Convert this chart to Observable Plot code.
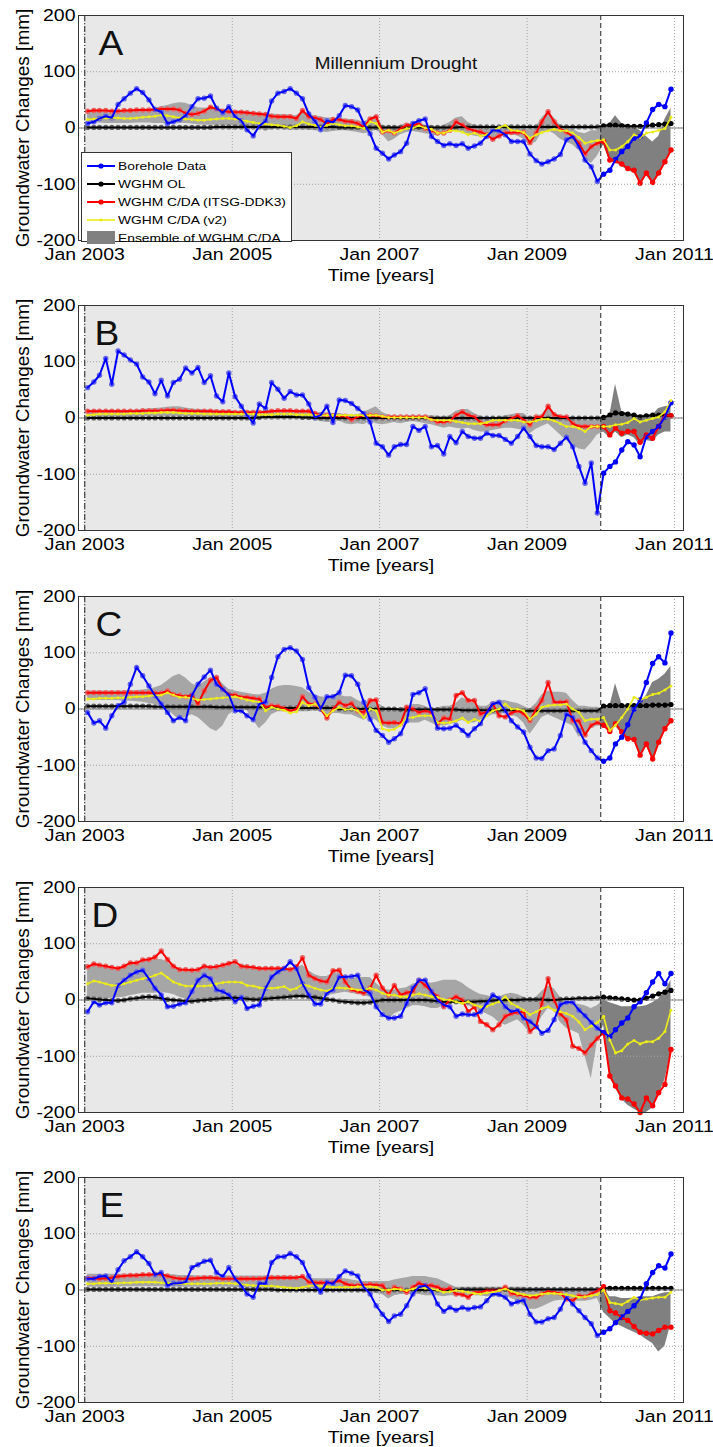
<!DOCTYPE html>
<html><head><meta charset="utf-8">
<script src="https://cdn.jsdelivr.net/npm/d3@7"></script>
<script src="https://cdn.jsdelivr.net/npm/@observablehq/plot@0.6"></script>
<style>
html,body{margin:0;padding:0;background:#fff;}
#wrap{position:relative;width:713px;height:1447px;overflow:hidden;font-family:"Liberation Sans",Arial,sans-serif;}
.panel{position:absolute;left:0;}
#legend{position:absolute;left:81px;top:152px;width:211px;height:90px;box-sizing:border-box;border:1px solid #333;background:#fff;}
.lrow{position:absolute;left:0;height:16px;width:205px;}
.lrow svg{position:absolute;left:4px;top:0;}
.lrow span{position:absolute;left:36px;top:0;font-size:11.8px;line-height:16px;white-space:nowrap;transform:scaleX(1.17);transform-origin:left center;color:#000;}
</style></head><body><div id="wrap"></div>
<script>
// ---------- axis / category data ----------
const tickYears = [2003, 2005, 2007, 2009, 2011];
const yTicks = [-200, -100, 0, 100, 200];
const months = d3.range(96).map(i => new Date(Date.UTC(2003, i, 15)));
const drought = [{start: new Date(Date.UTC(2003, 0, 1)), end: new Date(Date.UTC(2010, 0, 1))}];
const xStart = new Date(Date.UTC(2002, 11, 1)), xEnd = new Date(Date.UTC(2011, 1, 15));
const seriesNames = ["Borehole Data", "WGHM OL", "WGHM C/DA (ITSG-DDK3)", "WGHM C/DA (v2)", "Ensemble of WGHM C/DA"];

// ---------- Panel A ----------
const boreA = [8,11,17,21,18,42,52,62,70,63,50,33, 29,8,11,15,22,38,52,53,57,35,27,38, 20,13,-3,-14,4,12,48,62,65,70,62,52, 25,12,-3,13,10,22,40,38,32,8,-10,-36, -45,-55,-48,-42,-27,8,13,16,-15,-24,-31,-28, -31,-28,-36,-32,-27,-15,-4,-5,-12,-24,-24,-24, -46,-58,-64,-60,-55,-47,-21,-15,-33,-57,-69,-95, -82,-75,-56,-42,-33,-18,-15,9,33,42,38,69];
const cdaA = [30,31,31,31,30,30,31,31,32,32,32,33, 34,34,34,32,26,24,26,30,37,34,30,29, 28,28,27,26,25,24,21,20,20,20,17,31, 20,18,15,7,15,15,12,11,8,2,16,20, -7,-5,-9,-1,5,5,8,-1,-4,-9,-9,-4, 11,5,-1,-5,-7,-12,-20,-14,-9,-8,-8,-8, -26,-9,11,29,11,-2,-7,-15,-27,-46,-33,-27, -24,-57,-58,-64,-72,-75,-98,-80,-97,-80,-60,-39];
const olA = [1,1,1,1,1,1,1,1,1,1,1,1, 1,1,1,1,1,1,1,1,1,2,2,2, 2,2,2,2,2,2,2,2,2,2,2,2, 2,2,2,2,2,1,1,1,1,1,1,1, 1,1,1,1,1,1,1,1,1,1,1,1, 1,2,2,2,2,2,2,2,2,2,2,2, 2,2,2,2,2,2,2,2,2,2,2,2, 4,5,5,4,3,3,3,4,5,6,7,8];
const v2A = [15,16,17,18,18,18,17,17,18,19,20,21, 23,22,20,18,16,15,14,14,15,16,17,17, 16,14,12,10,8,7,6,5,3,1,4,11, 7,5,1,5,8,6,4,4,2,-1,11,8, -7,-4,-9,-5,-1,0,4,0,-2,-9,-9,-5, -5,-7,-12,-9,-14,-12,-5,1,5,-4,-5,-8, -18,-12,-8,-5,-2,-5,-5,-9,-17,-27,-24,-22, -21,-39,-39,-33,-24,-12,-17,-9,-7,-4,-1,19];
const ensLoA = [10,9,9,8,8,8,8,8,9,9,9,8, 8,7,7,8,8,7,6,5,5,5,4,4, 3,3,2,2,0,-6,-2,-2,-3,-4,-4,-3, -4,-5,-6,-8,-6,-5,-5,-6,-8,-10,-8,-4, -12,-25,-20,-12,-8,-6,-8,-10,-12,-14,-10,-6, -5,-8,-12,-14,-16,-18,-20,-16,-14,-12,-14,-20, -30,-25,-8,-5,-10,-20,-25,-30,-40,-55,-63,-50, -30,-60,-62,-68,-76,-80,-99,-85,-98,-82,-62,-42];
const ensHiA = [28,29,29,30,30,30,31,31,32,33,34,35, 38,40,43,45,44,40,36,35,36,35,33,32, 31,30,29,28,27,26,25,24,24,23,22,30, 24,22,20,18,18,18,16,15,14,10,18,22, 5,2,0,5,8,8,10,5,3,0,5,10, 18,20,10,5,3,0,-2,2,6,4,2,0, -5,2,18,30,18,5,2,-2,-8,-10,-5,-5, 3,8,22,8,5,2,-5,-15,-25,-15,15,35];

// ---------- Panel B ----------
const boreB = [54,64,76,106,60,119,112,103,96,73,64,43, 67,39,63,69,89,80,90,63,75,39,29,80, 38,21,5,-9,25,17,63,51,35,47,41,41, 25,1,5,21,-8,32,31,26,17,8,-7,-45, -51,-66,-51,-47,-47,-15,-22,-15,-51,-49,-64,-33, -44,-24,-33,-36,-36,-27,-31,-31,-38,-45,-33,-18, -33,-49,-51,-51,-56,-45,-34,-51,-86,-116,-80,-169, -98,-86,-78,-57,-42,-48,-69,-33,-24,-15,2,27];
const cdaB = [12,12,12,12,12,12,12,12,12,13,13,13, 13,14,14,13,13,12,12,12,12,11,11,11, 10,10,10,10,10,11,12,13,13,13,12,12, 12,8,5,5,4,3,3,-3,2,5,5,4, 2,2,2,2,2,2,2,2,-2,-7,-7,-5, 5,11,5,2,-8,-12,-12,-12,-5,-1,4,-3, -12,2,2,21,6,2,2,-10,-15,-15,-15,-15, -15,-30,-18,-27,-24,-24,-43,-30,-36,-15,5,4];
const olB = [0,0,0,0,0,0,0,0,0,0,0,0, 0,0,0,0,0,0,0,0,0,0,0,0, 0,0,0,0,1,2,2,2,2,2,2,1, 1,0,0,0,0,0,0,0,0,0,0,0, 0,0,0,0,0,0,0,0,0,0,0,0, 0,0,0,0,0,0,0,0,0,0,0,0, 0,0,0,0,0,0,0,0,0,0,0,0, 1,5,9,8,7,5,2,4,5,5,5,4];
const v2B = [5,6,7,7,7,7,7,8,8,8,9,9, 10,10,10,9,8,8,8,7,7,7,7,7, 7,7,7,7,6,6,6,7,7,7,6,6, 6,5,5,5,5,5,5,5,5,5,5,5, 3,1,1,1,1,1,1,1,-3,-4,-4,-4, -6,-8,-10,-10,-10,-8,-4,-4,-4,-4,-4,-7, -7,-5,-2,-2,-5,-10,-15,-15,-18,-24,-15,-15, -15,-15,-12,-11,-8,-1,-7,-4,-1,2,11,31];
const ensLoB = [0,0,0,1,1,1,1,1,1,2,2,2, 2,2,2,2,2,2,1,1,1,1,1,1, 0,0,0,0,0,0,-2,-2,-1,-1,-1,-2, -3,-4,-6,-8,-8,-5,-10,-12,-10,-12,-6,-10, -12,-10,-8,-10,-8,-6,-8,-10,-12,-15,-18,-16, -18,-20,-18,-22,-25,-25,-22,-20,-18,-18,-20,-22, -28,-20,-15,-10,-20,-30,-40,-48,-55,-57,-45,-30, -25,-35,-25,-35,-30,-35,-48,-40,-42,-30,-25,-25];
const ensHiB = [13,13,13,13,13,13,13,14,14,15,16,17, 18,19,20,20,18,16,15,15,14,14,13,13, 12,12,12,12,12,12,12,12,13,13,13,13, 13,10,10,9,8,8,6,5,6,10,15,20, 10,5,4,4,4,4,4,4,4,3,2,4, 12,15,15,8,3,0,0,2,4,6,8,8, 0,5,5,20,8,5,3,0,-2,-5,-3,-5, 0,5,60,12,8,5,5,5,5,17,20,22];

// ---------- Panel C ----------
const boreC = [-6,-25,-21,-34,-12,6,12,44,74,59,41,24, 9,-6,-21,-15,-21,24,44,57,69,44,35,25, -3,-3,-12,-19,9,12,56,93,106,109,103,88, 38,21,0,22,22,29,60,59,44,12,-18,-38, -47,-59,-53,-44,-21,26,29,36,-3,-34,-35,-34, -29,-38,-47,-35,-26,-6,9,12,-3,-21,-32,-41, -68,-87,-88,-74,-71,-47,-9,-15,-38,-59,-74,-87, -93,-87,-62,-50,-28,0,16,47,81,93,82,135];
const cdaC = [29,29,29,29,29,29,29,29,29,29,29,28, 28,32,26,24,22,25,9,32,51,56,35,26, 25,21,21,19,18,3,6,5,1,-3,0,22, 9,9,0,-16,0,12,6,10,-3,-6,15,16, -24,-25,-24,-26,3,0,-6,-3,-6,-26,-16,-18, 24,29,15,15,-9,-5,9,-12,-14,-7,-3,-8, -21,0,15,47,12,12,13,-21,-21,-46,-29,-24, -29,-40,-26,-41,-53,-54,-82,-62,-89,-59,-35,-21];
const olC = [5,5,5,5,5,5,5,5,5,5,5,4, 4,4,4,4,4,4,4,4,4,3,3,3, 3,3,3,3,3,3,3,2,2,2,2,2, 2,2,2,2,2,0,0,0,0,0,0,0, 0,0,0,-1,-1,-1,-1,-1,-1,-1,-1,-1, -1,-2,-2,-2,-2,-2,-2,-2,-2,-2,-2,-3, -3,-3,-3,-3,-3,-3,-3,-3,-3,-3,-3,-3, 5,6,6,6,6,6,6,6,7,7,7,8];
const v2C = [18,18,19,19,19,20,20,21,22,22,23,24, 25,29,25,21,21,19,16,17,18,19,20,21, 22,19,16,14,12,-3,3,0,-2,-7,-5,12, 6,9,1,-12,-3,3,-1,0,-3,-15,0,-3, -35,-38,-36,-29,-15,-15,-12,-12,-12,-24,-25,-24, -21,-16,-24,-18,-22,-12,-3,0,9,0,0,-3, -18,-9,3,6,7,7,9,0,-6,-21,-18,-18, -15,-38,-29,-15,0,21,16,21,26,28,34,41];
const ensLoC = [15,15,15,15,15,15,14,14,13,12,10,8, 5,0,-10,-20,-15,-10,-15,-25,-35,-40,-30,-10, -3,0,-2,-20,-35,-25,-10,-5,-5,-5,-5,-5, -5,-3,-5,-15,-8,-8,-10,-10,-15,-20,-15,-20, -30,-35,-35,-30,-25,-25,-25,-20,-25,-30,-30,-28, -25,-20,-25,-25,-20,-15,-10,-10,-8,-10,-15,-25, -45,-30,-15,-10,-15,-20,-25,-30,-50,-45,-35,-30, -30,-42,-30,-45,-55,-56,-84,-65,-90,-60,-36,-22];
const ensHiC = [32,32,32,32,32,32,32,33,33,34,35,38, 42,50,58,62,55,45,40,48,55,58,45,35, 32,30,28,26,25,28,35,40,42,42,40,38, 30,25,22,20,25,25,22,22,15,10,15,12, 5,0,0,0,5,8,8,5,0,2,5,5, 10,20,15,10,5,5,12,15,15,12,10,5, 0,10,25,32,30,30,28,15,5,5,3,3, 0,5,45,10,0,5,10,24,47,53,62,76];

// ---------- Panel D ----------
const boreD = [-21,-3,-9,-5,-5,26,35,44,50,53,38,21, 9,-12,-11,-7,-5,15,35,44,38,18,15,9, -3,5,-15,-11,-9,21,41,50,56,68,56,29, 9,-7,-7,12,18,41,41,42,44,18,12,-12, -26,-32,-32,-29,-6,21,35,35,15,0,-9,-12, -29,-25,-26,-26,-21,-6,9,3,-12,-21,-18,-32, -38,-47,-59,-54,-35,-8,-4,-4,-18,-28,-40,-50, -58,-65,-53,-41,-32,-12,-3,13,32,47,29,47];
const cdaD = [59,64,62,60,58,56,60,66,66,71,72,76, 87,72,60,54,54,53,54,60,58,59,62,65, 68,60,59,58,56,56,56,56,56,54,59,75, 44,38,34,32,52,53,32,18,15,12,21,44, 21,9,26,9,13,15,35,26,15,6,-12,0, 6,0,-21,-12,-38,-44,-53,-44,-29,-24,-22,-21, -56,-47,-6,38,0,-25,-35,-82,-86,-94,-80,-68, -58,-135,-153,-174,-176,-185,-200,-174,-188,-165,-150,-88];
const olD = [3,2,1,0,-1,-1,0,2,3,5,6,5, 3,1,0,-1,-2,-2,-1,0,1,2,3,4, 4,3,2,1,1,2,3,4,5,6,7,7, 6,5,3,1,0,-2,-3,-4,-5,-5,-4,-2, 0,0,0,0,0,0,0,0,-1,-2,-3,-3, -3,-3,-3,-3,-2,-2,-1,0,0,0,0,1, 1,1,1,0,0,1,2,2,3,3,3,4, 5,4,3,2,1,0,0,3,7,11,14,17];
const v2D = [29,34,32,29,26,26,29,32,35,38,40,44, 48,40,32,28,25,25,25,25,26,29,31,32, 32,31,26,25,22,21,21,22,24,18,21,28, 25,21,18,16,21,22,21,20,18,18,21,18, 12,9,9,6,6,9,11,9,6,5,1,0, -3,-6,-3,-9,-12,-11,-7,-3,6,-6,-12,-18, -26,-21,-15,-12,-18,-21,-24,-29,-39,-53,-46,-40, -29,-71,-94,-90,-78,-72,-78,-74,-74,-68,-56,-18];
const ensLoD = [5,4,3,2,3,4,5,8,10,12,12,12, 14,12,10,5,2,0,-1,-2,-2,-1,0,0, 0,0,-2,-3,-2,-1,0,2,3,4,5,5, 4,3,5,8,10,12,14,12,10,8,5,-10, -20,-35,-25,-20,-15,-10,-10,-12,-15,-15,-10,-5, -5,-8,-10,-15,-20,-25,-30,-40,-45,-40,-35,-45, -60,-50,-30,-15,-20,-40,-50,-55,-60,-100,-140,-75, -45,-137,-157,-177,-187,-194,-200,-200,-192,-168,-142,-92];
const ensHiD = [58,60,60,58,56,55,58,62,64,68,70,72, 72,68,58,52,52,52,53,56,56,57,60,62, 64,58,57,56,55,55,55,55,55,54,57,62, 52,45,42,42,48,48,40,38,40,40,40,30, 20,18,18,20,22,28,32,32,30,32,35,35, 35,30,22,15,10,8,5,5,10,12,10,5, 0,5,15,25,20,5,0,-5,-8,-10,-15,-10, 0,-5,-8,-12,-12,-12,-12,-10,-5,2,15,35];

// ---------- Panel E ----------
const boreE = [20,20,24,25,14,36,52,59,68,59,47,27, 31,8,12,12,14,40,45,51,53,31,24,40, 20,8,-7,-13,12,11,49,59,59,65,59,49, 25,8,-4,14,11,24,34,30,25,5,-7,-28, -43,-56,-46,-43,-28,-7,5,8,-1,-25,-38,-31, -36,-31,-34,-31,-30,-19,-7,-8,-13,-25,-21,-18, -43,-57,-57,-51,-49,-34,-13,-25,-37,-49,-60,-81, -75,-69,-58,-48,-38,-28,-16,11,31,43,39,64];
const cdaE = [21,21,20,21,22,24,25,26,26,27,27,28, 28,25,22,20,20,20,21,22,22,21,20,20, 20,20,20,20,20,21,22,22,22,22,22,24, 14,13,13,13,13,17,11,8,8,9,10,9, 8,-4,5,2,-4,5,12,8,8,5,0,3, -7,-8,-13,-4,-4,-1,-1,-1,5,-6,-8,-10, -13,-13,-7,-2,-4,-6,-16,-19,-10,-12,-7,-1, 6,-37,-41,-49,-54,-65,-75,-77,-78,-72,-66,-66];
const olE = [1,1,1,1,1,1,1,1,1,1,1,1, 1,1,1,1,1,1,1,1,1,1,1,1, 1,1,1,1,1,1,1,0,0,0,0,0, 0,0,0,0,0,0,0,0,0,0,0,0, 0,0,0,0,0,0,0,0,0,0,0,0, 0,1,1,1,1,1,1,1,1,1,1,1, 1,1,1,1,1,1,1,1,1,1,1,1, 3,3,3,3,3,3,3,3,3,3,3,3];
const v2E = [11,11,12,12,12,12,13,13,14,14,14,14, 13,12,12,11,11,11,11,11,11,12,12,12, 11,10,9,8,8,7,7,6,5,4,3,5, 7,8,7,6,5,5,5,5,6,6,6,5, 0,0,2,1,-1,2,5,3,2,0,-4,-3, -1,-2,-4,-6,-7,-5,-4,-1,2,-2,-6,-8, -10,-9,-7,-6,-6,-7,-8,-10,-13,-12,-10,-8, 0,-22,-24,-26,-20,-13,-18,-16,-14,-13,-13,-4];
const ensLoE = [5,5,5,5,5,5,6,6,6,6,6,6, 6,5,5,5,5,5,5,5,5,5,5,5, 4,4,4,3,3,3,3,3,3,3,3,3, 2,2,2,2,1,0,0,-2,-4,-5,-5,-6, -8,-16,-10,-8,-8,-8,-8,-10,-10,-10,-12,-10, -10,-10,-10,-10,-10,-12,-12,-12,-10,-15,-20,-28, -34,-34,-30,-25,-20,-18,-18,-20,-20,-20,-18,-15, -40,-50,-60,-65,-70,-75,-80,-88,-95,-110,-100,-60];
const ensHiE = [28,28,28,28,28,28,28,28,28,28,27,27, 27,27,27,26,26,26,25,25,25,25,25,25, 25,25,25,25,25,25,25,25,25,25,24,24, 22,20,20,20,20,20,20,18,16,15,15,15, 15,15,18,20,22,24,24,24,22,20,15,10, 5,5,5,5,5,5,5,5,5,5,5,5, 3,3,3,3,2,2,2,2,2,2,2,2, 5,-12,-12,-15,-15,-14,-12,-12,-12,-8,-5,-5];

// ---------- drawing ----------
const BLUE = "#0000ff", RED = "#ff0000", BLACK = "#000000", YELLOW = "#ecec1c", ENS = "#808080";
const xTicks = tickYears.map(y => new Date(Date.UTC(y, 0, 1)));
const wrap = document.getElementById("wrap");
const tops = [0, 290, 581, 872, 1162];
const panels = [
  {letter: "A", dx: 20, bore: boreA, ol: olA, cda: cdaA, v2: v2A, lo: ensLoA, hi: ensHiA, note: true},
  {letter: "B", dx: 16, bore: boreB, ol: olB, cda: cdaB, v2: v2B, lo: ensLoB, hi: ensHiB},
  {letter: "C", dx: 17, bore: boreC, ol: olC, cda: cdaC, v2: v2C, lo: ensLoC, hi: ensHiC},
  {letter: "D", dx: 13, bore: boreD, ol: olD, cda: cdaD, v2: v2D, lo: ensLoD, hi: ensHiD},
  {letter: "E", dx: 21, bore: boreE, ol: olE, cda: cdaE, v2: v2E, lo: ensLoE, hi: ensHiE}
];

function stretchText(svg) {
  svg.querySelectorAll("text").forEach(t => {
    const tr = t.getAttribute("transform") || "";
    if (tr.includes("rotate")) return;
    const fs = parseFloat(getComputedStyle(t).fontSize);
    const s = fs > 30 ? 1.06 : 1.18;
    const x = parseFloat(t.getAttribute("x")) || 0, y = parseFloat(t.getAttribute("y")) || 0;
    t.setAttribute("transform", `${tr} translate(${x},${y}) scale(${s},1) translate(${-x},${-y})`);
  });
}

panels.forEach((p, k) => {
  const rows = months.map((date, i) => ({date, bore: p.bore[i], ol: p.ol[i], cda: p.cda[i], v2: p.v2[i], lo: p.lo[i], hi: p.hi[i]}));
  const marks = [
    Plot.areaY(rows, {x: "date", y1: "lo", y2: "hi", fill: ENS}),
    Plot.dot(rows, {x: "date", y: "ol", r: 2.6, fill: BLACK}),
    Plot.dot(rows, {x: "date", y: "cda", r: 2.7, fill: RED}),
    Plot.dot(rows, {x: "date", y: "bore", r: 2.7, fill: BLUE}),
    Plot.rect(drought, {x1: "start", x2: "end", fill: "#cfcfcf", fillOpacity: 0.48}),
    Plot.ruleX(xTicks, {stroke: "#a0a0a0", strokeDasharray: "1,2"}),
    Plot.ruleY(yTicks, {stroke: "#a0a0a0", strokeDasharray: "1,2"}),
    Plot.ruleY([0], {stroke: "#808080"}),
    Plot.line(rows, {x: "date", y: "ol", stroke: BLACK, strokeWidth: 2}),
    Plot.line(rows, {x: "date", y: "cda", stroke: RED, strokeWidth: 2}),
    Plot.line(rows, {x: "date", y: "v2", stroke: YELLOW, strokeWidth: 1.6}),
    Plot.dot(rows, {x: "date", y: "v2", r: 1.5, fill: YELLOW}),
    Plot.line(rows, {x: "date", y: "bore", stroke: BLUE, strokeWidth: 2}),
    Plot.ruleX(drought, {x: "start", stroke: "#222", strokeDasharray: "6,2,1,2"}),
    Plot.ruleX(drought, {x: "end", stroke: "#222", strokeDasharray: "5,3"}),
    Plot.frame({stroke: "#333"}),
    Plot.text([p.letter], {text: d => d, frameAnchor: "top-left", textAnchor: "start", lineAnchor: "top", dx: p.dx, dy: 15, fontSize: 35, fill: "#111"}),
    Plot.text(["Time [years]"], {text: d => d, frameAnchor: "bottom", textAnchor: "middle", lineAnchor: "top", dy: 29, fontSize: 16.5}),
    Plot.text(["Groundwater Changes [mm]"], {text: d => d, frameAnchor: "left", textAnchor: "middle", lineAnchor: "middle", rotate: -90, dx: -55.5, fontSize: 19})
  ];
  if (p.note) marks.push(Plot.text(["Millennium Drought"], {text: d => d, frameAnchor: "top", textAnchor: "middle", lineAnchor: "top", dx: 15, dy: 42, fontSize: 16, fill: "#111"}));
  const svg = Plot.plot({
    width: 713, height: 290,
    marginLeft: 78, marginRight: 30, marginTop: 15, marginBottom: 50,
    style: {fontFamily: '"Liberation Sans", Arial, sans-serif', fontSize: "16.5px", color: "#000", background: "transparent", overflow: "visible"},
    x: {type: "utc", domain: [xStart, xEnd], ticks: xTicks, tickFormat: d => "Jan " + d.getUTCFullYear(), tickSize: 0, tickPadding: 8, label: null},
    y: {domain: [-200, 200], ticks: yTicks, tickFormat: d => String(d), tickSize: 0, tickPadding: 3, label: null},
    marks
  });
  const div = document.createElement("div");
  div.className = "panel";
  div.style.top = tops[k] + "px";
  div.appendChild(svg);
  wrap.appendChild(div);
  stretchText(svg);
});

// ---------- legend (panel A) ----------
const legend = document.createElement("div");
legend.id = "legend";
const legendColors = [BLUE, BLACK, RED, YELLOW, ENS];
const rowTops = [4.5, 23, 41, 58.5, 76.5];
seriesNames.forEach((name, i) => {
  const row = document.createElement("div");
  row.className = "lrow";
  row.style.top = rowTops[i] + "px";
  let sw;
  if (i < 4) {
    const r = i === 3 ? 1.6 : 2.6, w = i === 3 ? 1.6 : 2;
    sw = `<svg width="30" height="16"><line x1="1" y1="8" x2="29" y2="8" stroke="${legendColors[i]}" stroke-width="${w}"/><circle cx="15" cy="8" r="${r}" fill="${legendColors[i]}"/></svg>`;
  } else {
    sw = `<svg width="30" height="16"><rect x="1" y="1" width="28" height="13" fill="${ENS}"/></svg>`;
  }
  row.innerHTML = sw + `<span>${name}</span>`;
  legend.appendChild(row);
});
wrap.appendChild(legend);
</script></body></html>
